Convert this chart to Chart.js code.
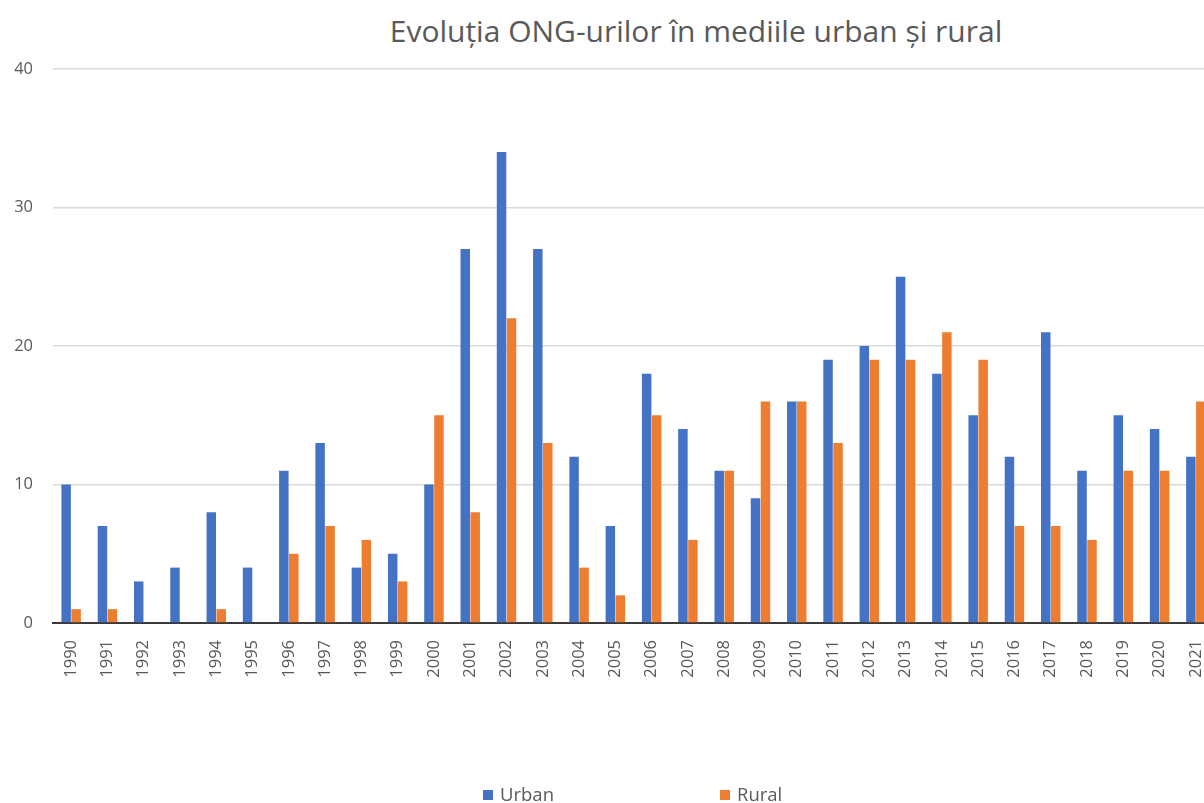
<!DOCTYPE html>
<html>
<head>
<meta charset="utf-8">
<script src="https://cdn.jsdelivr.net/npm/chart.js@4/dist/chart.umd.min.js"></script>
<style>
      body { margin: 0; width: 1204px; height: 803px; overflow: hidden; background: #fff; font-family: "Open Sans", sans-serif; }
      #chart-title { position: absolute; left: 0; top: 10px; width: 1392px; text-align: center; font-size: 30px; color: #595959; white-space: nowrap; }
      #chart-box { position: absolute; left: 0; top: 0; width: 1230px; height: 803px; }
      #chart-legend { position: absolute; top: 781px; left: 0; width: 1204px; height: 26px; font-size: 18.5px; color: #595959; }
      .item { position: absolute; top: 0; white-space: nowrap; }
      .swatch { display: inline-block; width: 10px; height: 10px; margin-right: 7px; vertical-align: 1px; }
</style>
</head>
<body>
<div id="chart-title">Evoluția ONG-urilor în mediile urban și rural</div>
<div id="chart-box"><canvas id="ong-chart"></canvas></div>
<div id="chart-legend">
      <span class="item" style="left:483px"><span class="swatch" style="background:#4472C4"></span>Urban</span>
      <span class="item" style="left:720px"><span class="swatch" style="background:#ED7D31"></span>Rural</span>
</div>
<script>
// ---------------------- DATA -------------------------
const years = ['1990','1991','1992','1993','1994','1995','1996','1997','1998','1999',
      '2000','2001','2002','2003','2004','2005','2006','2007','2008','2009',
      '2010','2011','2012','2013','2014','2015','2016','2017','2018','2019','2020','2021'];
const urbanValues = [10, 7, 3, 4, 8, 4, 11, 13, 4, 5,
      10, 27, 34, 27, 12, 7, 18, 14, 11, 9,
      16, 19, 20, 25, 18, 15, 12, 21, 11, 15, 14, 12];
const ruralValues = [1, 1, 0, 0, 1, 0, 5, 7, 6, 3,
      15, 8, 22, 13, 4, 2, 15, 6, 11, 16,
      16, 13, 19, 19, 21, 19, 7, 7, 6, 11, 11, 16];
const yTicks = [0, 10, 20, 30, 40];

const ctx = document.getElementById('ong-chart').getContext('2d');

const ongChart = new Chart(ctx, {
      type: 'bar',
      data: {
            labels: years,
            datasets: [
                  {
                        label: 'Urban',
                        data: urbanValues,
                        backgroundColor: '#4472C4',
                        categoryPercentage: 0.55,
                        barPercentage: 0.95
                  },
                  {
                        label: 'Rural',
                        data: ruralValues,
                        backgroundColor: '#ED7D31',
                        categoryPercentage: 0.55,
                        barPercentage: 0.95
                  }
            ]
      },
      options: {
            responsive: true,
            maintainAspectRatio: false,
            animation: false,
            layout: { padding: { top: 69, right: 16, bottom: 100, left: 0 } },
            plugins: {
                  legend: { display: false },
                  title: { display: false },
                  tooltip: { enabled: false }
            },
            scales: {
                  x: {
                        grid: { display: false },
                        border: { display: true, color: '#3a3a3a', width: 2 },
                        ticks: {
                              autoSkip: false,
                              minRotation: 90,
                              maxRotation: 90,
                              padding: 9,
                              color: '#595959',
                              font: { family: 'Open Sans', size: 16.5 }
                        },
                        afterFit: (scale) => { scale.height = 80; }
                  },
                  y: {
                        min: 0,
                        max: 40,
                        afterBuildTicks: (scale) => { scale.ticks = yTicks.map(v => ({ value: v })); },
                        grid: { color: '#d9d9d9', lineWidth: 1.5, drawTicks: false },
                        border: { display: false },
                        ticks: {
                              padding: 20,
                              color: '#595959',
                              font: { family: 'Open Sans', size: 16.5 }
                        },
                        afterFit: (scale) => { scale.width = 53; }
                  }
            }
      }
});
</script>
</body>
</html>
